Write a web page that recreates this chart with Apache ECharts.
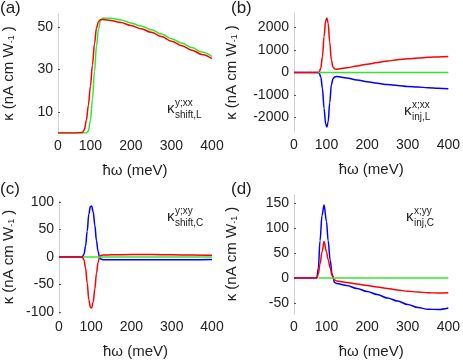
<!DOCTYPE html>
<html>
<head>
<meta charset="utf-8">
<script src="https://cdn.jsdelivr.net/npm/echarts@6/dist/echarts.min.js"></script>
<style>
  html, body { margin: 0; padding: 0; background: #fff; }
  #chart { width: 463px; height: 360px; }
</style>
</head>
<body>
<div id="chart"></div>
<script>
// x tick values (the first tick sits at the left frame edge and is printed as 0)
const xTicks = [20, 100, 200, 300, 400];

// (a) shift current, linear
const aEnergy = [20, 60, 80, 85, 90, 95, 100, 105, 110, 115, 120, 125, 130, 150, 175, 200, 225, 250, 275, 300, 325, 350, 375, 400];
const aRed    = [0, 0, 0.2, 1.5, 6, 13, 22, 32, 42, 49.5, 52.5, 53.3, 53.4, 53, 52, 50.6, 49.1, 47.4, 45.4, 43.2, 41.1, 39, 37, 35];
const aGreen  = [0, 0, 0, 0, 0, 1, 6, 16, 29, 41, 49, 53, 54, 54, 53.2, 51.8, 50.3, 48.6, 46.6, 44.4, 42.3, 40.2, 38.1, 36];
const aTicks  = [10, 30, 50];

// (b) injection current, linear
const bEnergy = [20, 78, 82, 86, 90, 94, 98, 101, 104, 108, 112, 116, 120, 125, 150, 175, 200, 225, 250, 275, 300, 325, 350, 375, 400];
const bRed    = [0, 0, 20, 200, 700, 1600, 2300, 2430, 2200, 1350, 550, 250, 160, 140, 210, 290, 370, 440, 510, 570, 610, 645, 675, 695, 715];
const bBlue   = [0, 0, -20, -200, -700, -1600, -2300, -2430, -2200, -1350, -550, -280, -200, -180, -250, -330, -410, -480, -540, -575, -620, -650, -675, -700, -725];
const bTicks  = [-2000, -1000, 0, 1000, 2000];

// (c) shift current, circular
const cEnergy = [20, 78, 82, 86, 90, 94, 98, 101, 105, 109, 113, 117, 121, 125, 130, 150, 200, 250, 300, 350, 400];
const cBlue   = [0, 0, 5, 20, 47, 78, 92, 93, 82, 58, 30, 10, -1, -4, -5, -5, -5, -5, -5, -5, -4.5];
const cRed    = [0, 0, -5, -20, -47, -78, -92, -93, -82, -58, -30, -10, 1, 3, 3.5, 4, 4.5, 4.5, 4, 3.5, 3];
const cTicks  = [-100, -50, 0, 50, 100];

// (d) injection current, circular
const dEnergy = [20, 76, 80, 84, 89, 94, 100, 104, 109, 114, 120, 125, 150, 175, 200, 225, 250, 275, 300, 325, 350, 375, 400];
const dBlue   = [0, 0, 20, 74, 125, 146, 113, 75, 36, 7, -9, -11, -15, -21, -27, -33, -40, -46, -53, -59, -62.5, -63, -60];
const dRed    = [0, 0, 8, 28, 52, 73, 52, 37, 20, 4, -4, -6, -9, -12, -15, -18, -21, -24, -26.5, -28, -29.5, -30, -29.5];
const dTicks  = [-50, 0, 50, 100, 150];

// green curves in (b)-(d) start at the onset
const greenEnergy = [80, 400];
const greenZero   = [0, 0];

const RED = '#ff0000', BLUE = '#0000ff', GREEN = '#2fe82f';
const FONT = 'Liberation Sans';

function zip(xs, ys) {
    return xs.map((x, i) => [x, ys[i]]);
}

const grids = [
    { left: 57, right: 251, top: 14, bottom: 227 },
    { left: 294, right: 14, top: 13, bottom: 228 },
    { left: 57, right: 251, top: 200, bottom: 40 },
    { left: 294, right: 14, top: 194, bottom: 40 }
];

const xAxes = grids.map((g, i) => ({
    type: 'value',
    gridIndex: i,
    min: 20,
    max: 400,
    name: 'ħω (meV)',
    nameLocation: 'middle',
    nameGap: 30,
    nameTextStyle: { fontFamily: FONT, fontSize: 15, color: '#222' },
    axisLine: { show: false },
    axisTick: { show: false },
    splitLine: { show: false },
    axisLabel: {
        customValues: xTicks,
        formatter: v => (v === 20 ? '0' : String(v)),
        fontFamily: FONT, fontSize: 14, color: '#222', margin: 6
    }
}));

const yRanges = [[0, 56, aTicks], [-2650, 2650, bTicks], [-104, 104, cTicks], [-72, 168, dTicks]];
const yGaps = [42, 55, 43, 55];

const yAxes = yRanges.map((r, i) => ({
    type: 'value',
    gridIndex: i,
    min: r[0],
    max: r[1],
    name: '{k|κ (nA cm W}{s|-1}{k| )}',
    nameLocation: 'middle',
    nameGap: yGaps[i],
    nameTextStyle: {
        rich: {
            k: { fontFamily: FONT, fontSize: 15, color: '#222' },
            s: { fontFamily: FONT, fontSize: 9, color: '#222', padding: [6, 0, 0, 0] }
        }
    },
    axisLine: { show: true, lineStyle: { color: '#c8c8c8', type: 'dotted', width: 1 } },
    axisTick: { show: true, inside: true, length: 2, customValues: r[2], lineStyle: { color: '#555' } },
    splitLine: { show: false },
    axisLabel: {
        customValues: r[2],
        formatter: v => String(v),
        fontFamily: FONT, fontSize: 14, color: '#222', margin: 5
    }
}));

function line(idx, data, color, z) {
    return {
        type: 'line',
        xAxisIndex: idx,
        yAxisIndex: idx,
        data: data,
        showSymbol: false,
        smooth: 0.35,
        smoothMonotone: 'x',
        z: z,
        lineStyle: { color: color, width: 1.5 },
        animation: false
    };
}

const series = [
    line(0, zip(aEnergy, aGreen), GREEN, 2),
    line(0, zip(aEnergy, aRed), RED, 3),
    line(1, zip(bEnergy, bBlue), BLUE, 2),
    line(1, zip(bEnergy, bRed), RED, 3),
    line(1, zip(greenEnergy, greenZero), GREEN, 4),
    line(2, zip(cEnergy, cBlue), BLUE, 2),
    line(2, zip(cEnergy, cRed), RED, 3),
    line(2, zip(greenEnergy, greenZero), GREEN, 4),
    line(3, zip(dEnergy, dBlue), BLUE, 2),
    line(3, zip(dEnergy, dRed), RED, 3),
    line(3, zip(greenEnergy, greenZero), GREEN, 4)
];

// panel letters and kappa labels
function txt(x, y, s, size) {
    return {
        type: 'text', x: x, y: y, z: 10,
        style: { text: s, fontFamily: FONT, fontSize: size, fill: '#222', verticalAlign: 'middle' }
    };
}
function kappa(x, y, sup, sub) {
    return [
        txt(x, y, 'κ', 15),
        txt(x + 8, y - 6, sup, 10),
        txt(x + 8, y + 6, sub, 10)
    ];
}

const graphic = [
    txt(0, 8, '(a)', 17),
    txt(231, 8, '(b)', 17),
    txt(0, 189, '(c)', 17),
    txt(231, 189, '(d)', 17),
    ...kappa(167, 109, 'y;xx', 'shift,L'),
    ...kappa(404, 111, 'x;xx', 'inj,L'),
    ...kappa(167, 217, 'y;xy', 'shift,C'),
    ...kappa(406, 217, 'x;yy', 'inj,C')
];

const chart = echarts.init(document.getElementById('chart'));
chart.setOption({
    backgroundColor: '#fff',
    animation: false,
    grid: grids,
    xAxis: xAxes,
    yAxis: yAxes,
    series: series,
    graphic: graphic
});
</script>
</body>
</html>
